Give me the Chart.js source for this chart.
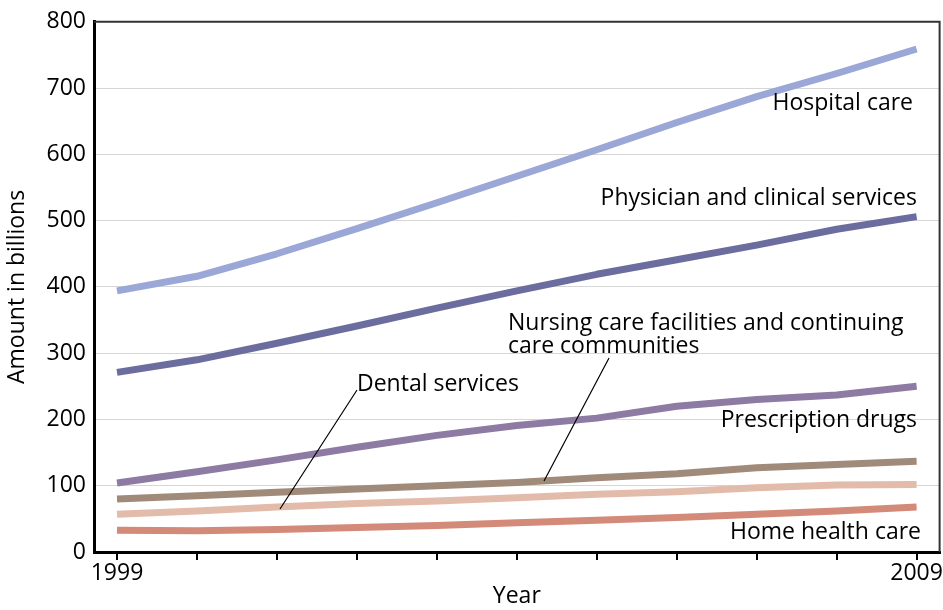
<!DOCTYPE html>
<html>
<head>
<meta charset="utf-8">
<script src="https://cdn.jsdelivr.net/npm/chart.js@4"></script>
<style>
html,body{margin:0;padding:0;background:#fff;}
canvas{display:block;}
</style>
</head>
<body>
<canvas id="c" width="943" height="610"></canvas>
<script>
const years = [1999, 2000, 2001, 2002, 2003, 2004, 2005, 2006, 2007, 2008, 2009];
const hospitalCare = [394, 416, 450, 488, 527, 567, 607, 648, 687, 722, 759];
const physicianServices = [271, 290, 315, 341, 368, 394, 419, 441, 463, 487, 506];
const prescriptionDrugs = [104, 121, 139, 158, 176, 191, 202, 220, 230, 237, 250];
const nursingCare = [80, 85, 90, 95, 100, 105, 112, 118, 127, 132, 137];
const dentalServices = [57, 62, 68, 73, 77, 82, 87, 91, 97, 101, 102];
const homeHealthCare = [33, 32, 34, 37, 40, 44, 48, 52, 57, 62, 68];
const yTicks = [0, 100, 200, 300, 400, 500, 600, 700, 800];
const xLabelYears = [1999, 2009];

const FONT = "'Open Sans', sans-serif";
const FS = 23;

function series(label, data, color) {
  return {
    label: label,
    data: years.map((y, i) => ({x: y, y: data[i]})),
    borderColor: color,
    backgroundColor: color,
    borderWidth: 7,
    pointRadius: 0,
    tension: 0,
    borderCapStyle: 'butt',
    borderJoinStyle: 'round',
    fill: false
  };
}

const annotations = {
  id: 'annotations',
  afterDatasetsDraw(chart) {
    const ctx = chart.ctx;
    const a = chart.chartArea;
    ctx.save();
    ctx.strokeStyle = '#333';
    ctx.lineWidth = 2;
    ctx.beginPath();
    ctx.moveTo(a.left, a.top);
    ctx.lineTo(a.right, a.top);
    ctx.lineTo(a.right, a.bottom);
    ctx.stroke();

    ctx.fillStyle = '#000';
    ctx.font = FS + "px " + FONT;
    ctx.textBaseline = 'middle';
    ctx.textAlign = 'right';
    ctx.fillText('Hospital care', 913, 103);
    ctx.fillText('Physician and clinical services', 917, 198);
    ctx.fillText('Prescription drugs', 917, 420);
    ctx.fillText('Home health care', 921, 532);
    ctx.textAlign = 'left';
    ctx.fillText('Nursing care facilities and continuing', 508, 323);
    ctx.fillText('care communities', 508, 346);
    ctx.fillText('Dental services', 357, 384);

    ctx.strokeStyle = '#000';
    ctx.lineWidth = 1.2;
    ctx.beginPath();
    ctx.moveTo(357, 390);
    ctx.lineTo(280, 509);
    ctx.moveTo(609, 358);
    ctx.lineTo(544, 481);
    ctx.stroke();
    ctx.restore();
  }
};

new Chart(document.getElementById('c'), {
  type: 'line',
  data: {
    datasets: [
      series('Hospital care', hospitalCare, '#9ba7d6'),
      series('Physician and clinical services', physicianServices, '#6a6d9e'),
      series('Prescription drugs', prescriptionDrugs, '#8d7ba3'),
      series('Nursing care facilities and continuing care communities', nursingCare, '#a08b7a'),
      series('Dental services', dentalServices, '#e2bbab'),
      series('Home health care', homeHealthCare, '#d38a79')
    ]
  },
  options: {
    responsive: false,
    animation: false,
    layout: {padding: {top: 16, right: 3, left: 0, bottom: 0}},
    plugins: {legend: {display: false}, tooltip: {enabled: false}},
    scales: {
      x: {
        type: 'linear',
        min: 1998.7125,
        max: 2009.2875,
        afterBuildTicks(scale) { scale.ticks = years.map(v => ({value: v})); },
        afterFit(scale) { scale.height = 58; },
        ticks: {
          color: '#000',
          font: {family: FONT, size: FS},
          padding: 0,
          maxRotation: 0,
          autoSkip: false,
          callback: (v) => xLabelYears.includes(v) ? String(v) : ''
        },
        grid: {drawOnChartArea: false, drawTicks: true, tickLength: 8, color: '#000', lineWidth: 2},
        border: {display: true, color: '#000', width: 3},
        title: {display: true, text: 'Year', color: '#000', font: {family: FONT, size: FS}, padding: {top: -12, bottom: 0}}
      },
      y: {
        min: 0,
        max: 800,
        afterBuildTicks(scale) { scale.ticks = yTicks.map(v => ({value: v})); },
        afterFit(scale) { scale.width = 94; },
        ticks: {color: '#000', font: {family: FONT, size: FS}, padding: 8},
        grid: {color: '#d6d6d6', lineWidth: 1, drawTicks: false},
        border: {display: true, color: '#000', width: 3},
        title: {display: true, text: 'Amount in billions', color: '#000', font: {family: FONT, size: FS}, padding: {top: 4, bottom: 0}}
      }
    }
  },
  plugins: [annotations]
});
</script>
</body>
</html>
